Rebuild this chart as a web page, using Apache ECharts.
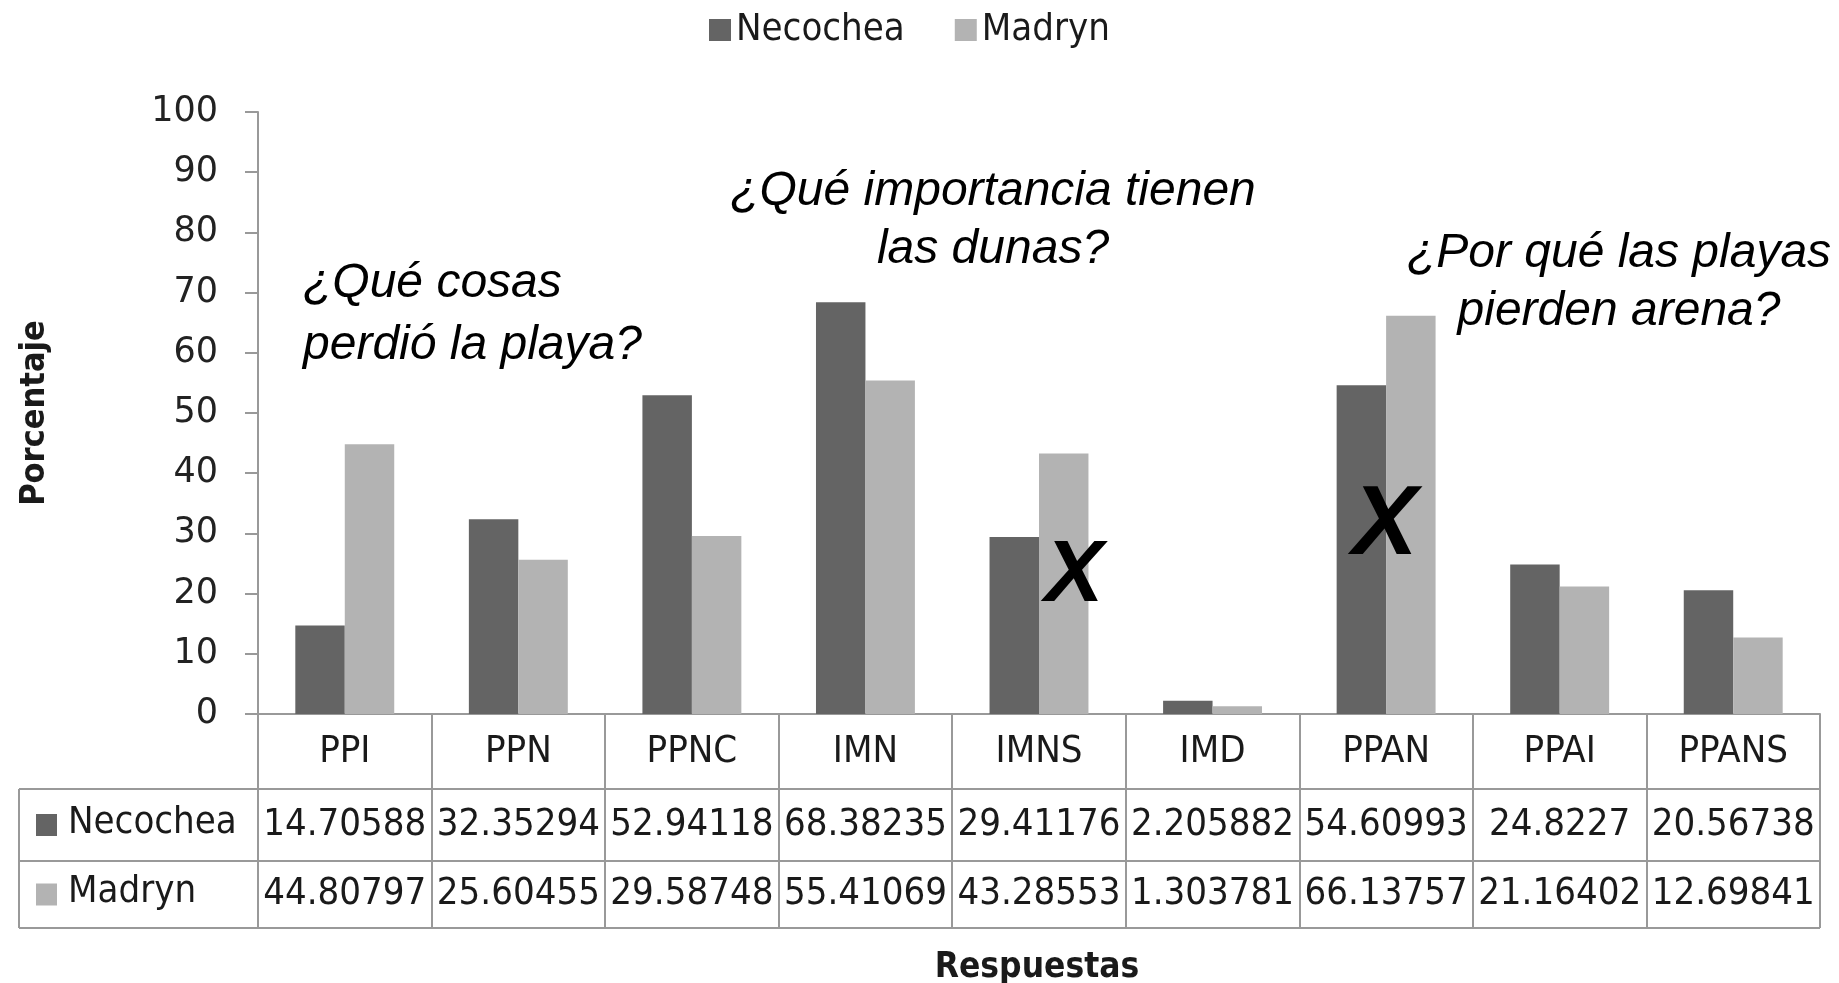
<!DOCTYPE html>
<html>
<head>
<meta charset="utf-8">
<script src="https://cdn.jsdelivr.net/npm/echarts@6/dist/echarts.min.js"></script>
<style>
    html, body { margin: 0; padding: 0; background: #fff; }
    #main { width: 1839px; height: 983px; }
</style>
</head>
<body>
<div id="main"></div>
<script>
const categories = ['PPI', 'PPN', 'PPNC', 'IMN', 'IMNS', 'IMD', 'PPAN', 'PPAI', 'PPANS'];
const necochea = [14.70588, 32.35294, 52.94118, 68.38235, 29.41176, 2.205882, 54.60993, 24.8227, 20.56738];
const madryn = [44.80797, 25.60455, 29.58748, 55.41069, 43.28553, 1.303781, 66.13757, 21.16402, 12.69841];
const seriesNames = ['Necochea', 'Madryn'];
const yMin = 0, yMax = 100, yStep = 10;

const darkGray = '#646464';
const lightGray = '#b3b3b3';
const lineGray = '#999999';
const narrow = '"DejaVu Sans Condensed", "Liberation Sans Narrow", sans-serif';
const arial = '"Liberation Sans", Arial, sans-serif';

// layout of plot + data table
const gridLeft = 258, gridRight = 1820, gridTop = 112, axisY = 714;
const rowLines = [789, 861, 928];
const tableLeft = 19;

const chart = echarts.init(document.getElementById('main'));

// table borders (horizontal) and row legend keys
const graphics = [];
rowLines.forEach(y => {
    graphics.push({
        type: 'line',
        shape: { x1: tableLeft, y1: y, x2: gridRight, y2: y },
        style: { stroke: lineGray, lineWidth: 2 }
    });
});
graphics.push({
    type: 'line',
    shape: { x1: tableLeft, y1: rowLines[0], x2: tableLeft, y2: rowLines[2] },
    style: { stroke: lineGray, lineWidth: 2 }
});
const rowCenters = [(rowLines[0] + rowLines[1]) / 2, (rowLines[1] + rowLines[2]) / 2];
[darkGray, lightGray].forEach((c, i) => {
    graphics.push({
        type: 'rect',
        shape: { x: 36, y: rowCenters[i] - 11, width: 21, height: 22 },
        style: { fill: c }
    });
    graphics.push({
        type: 'text',
        x: 68, y: rowCenters[i] - 2,
        style: { text: seriesNames[i], font: '38px ' + narrow, fill: '#1a1a1a', verticalAlign: 'middle' }
    });
});

// annotations
const notes = [
    { text: '¿Qué cosas\nperdió la playa?', x: 303, y: 315, align: 'left', lh: 62 },
    { text: '¿Qué importancia tienen\nlas dunas?', x: 993, y: 221, align: 'center', lh: 58 },
    { text: '¿Por qué las playas\npierden arena?', x: 1619, y: 283, align: 'center', lh: 58 }
];
notes.forEach(n => {
    graphics.push({
        type: 'text',
        x: n.x, y: n.y, z: 100,
        style: {
            text: n.text, font: 'italic 48px ' + arial, fill: '#000',
            align: n.align, verticalAlign: 'middle', lineHeight: n.lh
        }
    });
});
// the two X marks
graphics.push({
    type: 'text', x: 1074, y: 577, z: 100,
    style: { text: 'X', font: 'italic bold 88px ' + arial, fill: '#000', align: 'center', verticalAlign: 'middle' }
});
graphics.push({
    type: 'text', x: 1385, y: 527, z: 100,
    style: { text: 'X', font: 'italic bold 98px ' + arial, fill: '#000', align: 'center', verticalAlign: 'middle' }
});
graphics.push({
    type: 'text', x: 1037, y: 968,
    style: { text: 'Respuestas', font: 'bold 35px ' + narrow, fill: '#1a1a1a', align: 'center', verticalAlign: 'middle' }
});

const option = {
    backgroundColor: '#fff',
    animation: false,
    legend: {
        data: seriesNames,
        left: 704,
        top: 6,
        icon: 'rect',
        itemWidth: 22,
        itemHeight: 22,
        itemGap: 50,
        textStyle: { fontFamily: narrow, fontSize: 38, color: '#1a1a1a' }
    },
    grid: {
        left: gridLeft,
        right: 1839 - gridRight,
        top: gridTop,
        bottom: 983 - axisY,
        containLabel: false,
        outerBoundsMode: 'none'
    },
    xAxis: [
        {
            type: 'category',
            data: categories,
            axisLine: { lineStyle: { color: lineGray, width: 2 } },
            axisTick: { show: true, interval: 0, length: rowLines[2] - axisY, lineStyle: { color: lineGray, width: 2 } },
            axisLabel: {
                interval: 0, margin: 38, verticalAlign: 'middle',
                fontFamily: narrow, fontSize: 38, color: '#1a1a1a'
            }
        },
        {
            type: 'category',
            data: categories,
            position: 'bottom',
            axisLine: { show: false },
            axisTick: { show: false },
            axisLabel: {
                interval: 0, margin: rowCenters[0] - axisY, verticalAlign: 'middle',
                fontFamily: narrow, fontSize: 38, color: '#1a1a1a',
                formatter: (v, i) => String(necochea[i])
            }
        },
        {
            type: 'category',
            data: categories,
            position: 'bottom',
            axisLine: { show: false },
            axisTick: { show: false },
            axisLabel: {
                interval: 0, margin: rowCenters[1] - axisY, verticalAlign: 'middle',
                fontFamily: narrow, fontSize: 38, color: '#1a1a1a',
                formatter: (v, i) => String(madryn[i])
            }
        }
    ],
    yAxis: {
        type: 'value',
        min: yMin,
        max: yMax,
        interval: yStep,
        name: 'Porcentaje',
        nameLocation: 'middle',
        nameGap: 206,
        nameRotate: 90,
        nameTextStyle: { fontFamily: narrow, fontSize: 34, fontWeight: 'bold', color: '#1a1a1a' },
        axisLine: { show: true, lineStyle: { color: lineGray, width: 2 } },
        axisTick: { show: true, length: 13, lineStyle: { color: lineGray, width: 2 } },
        axisLabel: { margin: 40, fontFamily: '"DejaVu Sans", sans-serif', fontSize: 35, color: '#222' },
        splitLine: { show: false }
    },
    series: [
        {
            name: seriesNames[0],
            type: 'bar',
            data: necochea,
            barGap: '0%',
            barCategoryGap: '43%',
            itemStyle: { color: darkGray }
        },
        {
            name: seriesNames[1],
            type: 'bar',
            data: madryn,
            barGap: '0%',
            barCategoryGap: '43%',
            itemStyle: { color: lightGray }
        }
    ],
    graphic: graphics
};

chart.setOption(option);
</script>
</body>
</html>
